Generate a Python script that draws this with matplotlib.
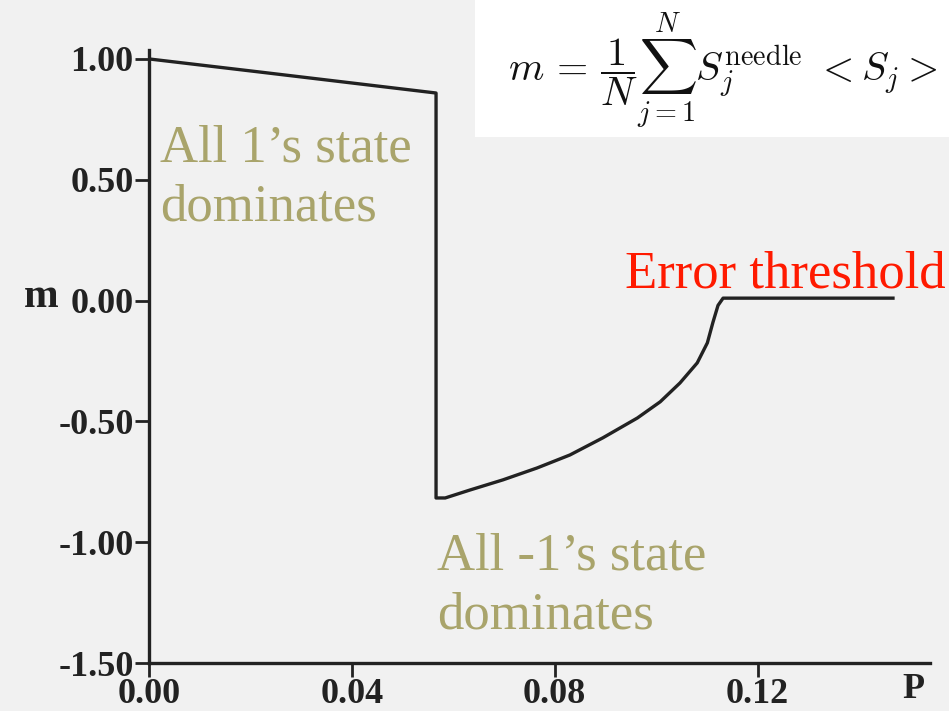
import matplotlib
matplotlib.use("Agg")
import matplotlib.pyplot as plt
from matplotlib.patches import Rectangle

# magnetisation m against error rate p
p = [0.000, 0.0218, 0.0566, 0.0566, 0.0584, 0.0633, 0.0698, 0.0765, 0.0830,
     0.0895, 0.0963, 0.1008, 0.1047, 0.1081, 0.1101, 0.1112, 0.1122, 0.1132, 0.1467]
m = [1.000, 0.946, 0.859, -0.817, -0.817, -0.784, -0.742, -0.693, -0.639,
     -0.568, -0.486, -0.419, -0.341, -0.258, -0.175, -0.090, -0.020, 0.010, 0.010]

xticks = [0.00, 0.04, 0.08, 0.12]
yticks = [1.00, 0.50, 0.00, -0.50, -1.00, -1.50]

W, H = 949, 711
plt.rcParams["mathtext.fontset"] = "cm"
fig = plt.figure(figsize=(W / 100, H / 100), dpi=100)
fig.patch.set_facecolor("#f1f1f1")

ax = fig.add_axes([149 / W, (H - 663) / H, (930 - 149) / W, (663 - 50) / H])
ax.set_facecolor("none")
ax.plot(p, m, color="#222222", lw=2.4, solid_joinstyle="round")

ax.set_xlim(0, 0.154)
ax.set_ylim(-1.5, 1.037)
for s in ["top", "right"]:
    ax.spines[s].set_visible(False)
for s in ["left", "bottom"]:
    ax.spines[s].set_linewidth(2.4)
    ax.spines[s].set_color("#222222")

tickfont = dict(family="Liberation Serif", weight="bold", size=26)
ax.set_xticks(xticks)
ax.set_xticklabels([f"{v:.2f}" for v in xticks], fontdict=tickfont)
ax.set_yticks(yticks)
ax.set_yticklabels([f"{v:.2f}" for v in yticks], fontdict=tickfont)
ax.tick_params(direction="out", length=10, width=2, color="#222222",
               labelcolor="#222222", pad=1)

fig.text(41 / W, 1 - 297 / H, "m", ha="center", va="center", color="#222222",
         family="Liberation Serif", weight="bold", size=30)
fig.text(913 / W, 1 - 690 / H, "P", ha="center", va="center", color="#222222",
         family="Liberation Serif", weight="bold", size=26)

olive = "#a9a46b"
ax.text(0.0022, 0.73, "All 1\u2019s state\ndominates", color=olive, ha="left", va="top",
        family="Liberation Serif", size=38, linespacing=1.3)
ax.text(0.0568, -0.96, "All -1\u2019s state\ndominates", color=olive, ha="left", va="top",
        family="Liberation Serif", size=38, linespacing=1.3)
ax.text(0.0939, 0.056, "Error threshold", color="#ff1a00", ha="left", va="baseline",
        family="Liberation Serif", size=38, clip_on=False)

# formula panel
fig.patches.append(Rectangle((475 / W, 1 - 137 / H), 1 - 475 / W, 137 / H,
                             transform=fig.transFigure, facecolor="white",
                             edgecolor="none", zorder=0))
fig.text(508 / W, 1 - 70 / H,
         r"$m\,=\,\dfrac{1}{N}\sum_{j=1}^{N} S_j^{\mathrm{needle}}\ <S_j>$",
         ha="left", va="center", size=29, color="#111111")

fig.savefig("out.png", dpi=100, facecolor=fig.get_facecolor())
